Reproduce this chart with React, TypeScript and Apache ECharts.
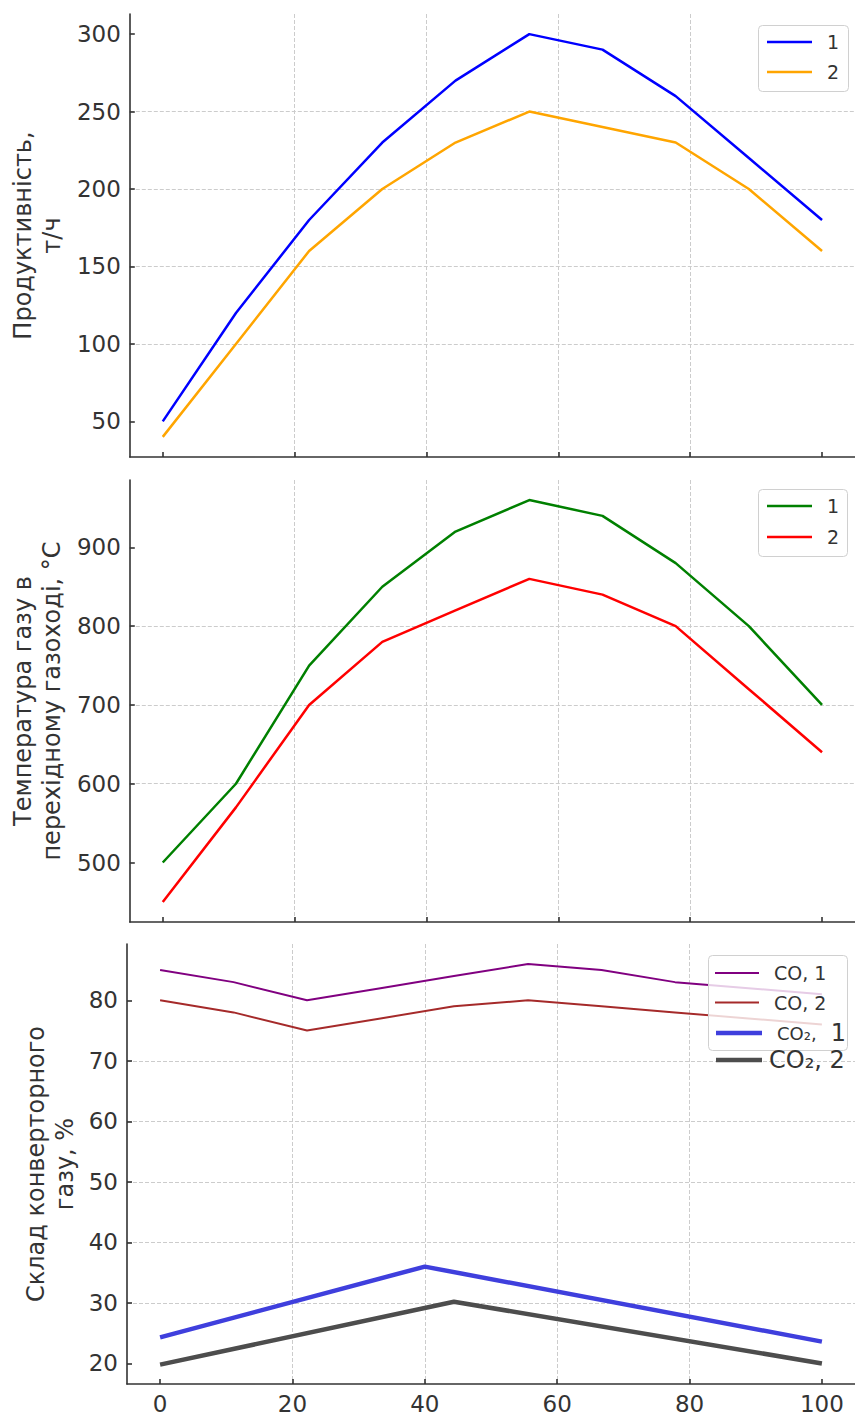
import React, { useEffect, useRef } from 'react';
import * as echarts from 'echarts';

// x positions of the data points
const xPoints = [0, 11.1, 22.2, 33.3, 44.4, 55.6, 66.7, 77.8, 88.9, 100];
// Panel 1: productivity, t/h
const productivity1 = [50, 120, 180, 230, 270, 300, 290, 260, 220, 180];
const productivity2 = [40, 100, 160, 200, 230, 250, 240, 230, 200, 160];
// Panel 2: gas temperature, °C
const gasTemp1 = [500, 600, 750, 850, 920, 960, 940, 880, 800, 700];
const gasTemp2 = [450, 570, 700, 780, 820, 860, 840, 800, 720, 640];
// Panel 3: converter gas composition, %
const coSeries1 = [85, 83, 80, 82, 84, 86, 85, 83, 82, 81];
const coSeries2 = [80, 78, 75, 77, 79, 80, 79, 78, 77, 76];
const co2X1 = [0, 40, 100];
const co2Series1 = [24.3, 36, 23.6];
const co2X2 = [0, 44.4, 100];
const co2Series2 = [19.8, 30.2, 20];
// Tick labels
const xTicks = [0, 20, 40, 60, 80, 100];
const yTicks1 = [50, 100, 150, 200, 250, 300];
const yTicks2 = [500, 600, 700, 800, 900];
const yTicks3 = [20, 30, 40, 50, 60, 70, 80];
// Axis titles
const yNames = ['Продуктивність,\nт/ч', 'Температура газу в\nперехідному газоході, °C', 'Склад конверторного\nгазу, %'];
const legendNames1 = ['1', '2'];
const legendNames2 = ['1\u200b', '2\u200b'];
const legendNames3 = ['CO, 1', 'CO, 2'];
const legendNames3b = ['CO₂, 1'];
const legendNames3c = ['CO₂, 2'];

const FONT = 'DejaVu Sans';
const TXT = '#333';

const zip = (xs: number[], ys: number[]) => xs.map((x, i) => [x, ys[i]]);

export default function App() {
  const ref = useRef<HTMLDivElement>(null);
  useEffect(() => {
    if (!ref.current) return;
    const chart = echarts.init(ref.current, null, { renderer: 'svg' });
    const grids = [
      { left: 127, top: 14, width: 730, height: 443 },
      { left: 127, top: 480, width: 730, height: 442 },
      { left: 127, top: 944, width: 730, height: 444 },
    ];
    const yRanges = [
      [27, 313, yTicks1, 62, true],
      [424.5, 985.5, yTicks2, 62, true],
      [16.6, 89.3, yTicks3, 48, false],
    ] as const;
    const axisLineStyle = { color: '#333', width: 1.6 };
    const splitLineStyle = { color: '#cccccc', width: 1, type: [4, 2] as any };
    const xAxis = grids.map((_, i) => ({
      type: 'value',
      gridIndex: i,
      min: -5,
      max: 105,
      axisLine: { show: true, onZero: false, lineStyle: axisLineStyle },
      axisTick: { show: true, inside: true, length: 5, customValues: xTicks, lineStyle: axisLineStyle },
      axisLabel: { show: i === 2, customValues: xTicks, fontSize: 23, color: TXT, fontFamily: FONT, margin: 8 },
      splitLine: { show: true, showMinLine: false, showMaxLine: false, lineStyle: splitLineStyle },
    }));
    const yAxis = grids.map((_, i) => ({
      type: 'value',
      gridIndex: i,
      min: yRanges[i][0],
      max: yRanges[i][1],
      name: yNames[i],
      nameLocation: 'middle',
      nameRotate: 90,
      nameGap: yRanges[i][3],
      nameMoveOverlap: yRanges[i][4],
      nameTextStyle: { fontSize: 24, lineHeight: 29, color: TXT, fontFamily: FONT, align: 'center' },
      axisLine: { show: true, onZero: false, lineStyle: axisLineStyle },
      axisTick: { show: true, inside: true, length: 5, customValues: yRanges[i][2], lineStyle: axisLineStyle },
      axisLabel: { customValues: yRanges[i][2], fontSize: 23, color: TXT, fontFamily: FONT, margin: 9 },
      splitLine: { show: true, showMinLine: false, showMaxLine: false, lineStyle: splitLineStyle },
    }));
    const line = (name: string, data: number[][], color: string, width: number, gi: number) => ({
      type: 'line',
      name,
      xAxisIndex: gi,
      yAxisIndex: gi,
      data,
      symbol: 'none',
      lineStyle: { color, width },
      itemStyle: { color },
      z: 2,
    });
    const series = [
      line(legendNames1[0], zip(xPoints, productivity1), '#0000ff', 2.5, 0),
      line(legendNames1[1], zip(xPoints, productivity2), '#ffa500', 2.5, 0),
      line(legendNames2[0], zip(xPoints, gasTemp1), '#008000', 2.5, 1),
      line(legendNames2[1], zip(xPoints, gasTemp2), '#ff0000', 2.5, 1),
      line(legendNames3[0], zip(xPoints, coSeries1), '#800080', 2, 2),
      line(legendNames3[1], zip(xPoints, coSeries2), '#a52a2a', 2, 2),
      line(legendNames3b[0], zip(co2X1, co2Series1), '#3f3fdd', 4.5, 2),
      line(legendNames3c[0], zip(co2X2, co2Series2), '#4d4d4d', 4.5, 2),
    ];
    const legendBase = {
      orient: 'vertical',
      selectedMode: false,
      padding: 0,
      icon: 'rect',
      itemWidth: 45,
      itemHeight: 2.6,
      z: 10,
      formatter: (n: string) => (n === 'CO₂, 1' ? '{a|CO₂,}{b|1}' : n.replace('\u200b', '')),
      textStyle: {
        fontSize: 19,
        lineHeight: 22,
        color: TXT,
        fontFamily: FONT,
        padding: [0, 0, 0, 10],
        rich: {
          a: { fontSize: 18, lineHeight: 22, color: TXT, fontFamily: FONT },
          b: { fontSize: 24, lineHeight: 22, color: TXT, fontFamily: FONT, padding: [0, 0, 0, 14] },
        },
      },
    };
    const legend = [
      { ...legendBase, data: legendNames1, left: 767, top: 31, itemGap: 8 },
      { ...legendBase, data: legendNames2, left: 767, top: 495, itemGap: 9 },
      { ...legendBase, data: legendNames3, left: 715, top: 962, itemWidth: 44, itemHeight: 2, itemGap: 7.5 },
      { ...legendBase, data: legendNames3b, left: 716, top: 1021, itemWidth: 46, itemHeight: 4.5 },
      {
        ...legendBase,
        data: legendNames3c,
        left: 716,
        top: 1047,
        itemWidth: 46,
        itemHeight: 4.5,
        textStyle: { fontSize: 24, lineHeight: 26, color: TXT, fontFamily: FONT, padding: [0, 0, 0, 2] },
      },
    ];
    const box = (x: number, y: number, w: number, h: number) => ({
      type: 'rect',
      z: 3,
      shape: { x, y, width: w, height: h, r: 4 },
      style: { fill: 'rgba(255,255,255,0.8)', stroke: '#d0d0d0', lineWidth: 1 },
    });
    chart.setOption({
      animation: false,
      backgroundColor: '#ffffff',
      textStyle: { fontFamily: FONT },
      grid: grids,
      xAxis,
      yAxis,
      series,
      legend,
      graphic: [box(758.5, 25.5, 90, 66), box(758.5, 489.5, 89, 67), box(708.5, 955.5, 139, 95)],
    });
    return () => chart.dispose();
  }, []);
  return <div ref={ref} style={{ position: 'absolute', left: 0, top: 0, width: 855, height: 1415 }} />;
}
